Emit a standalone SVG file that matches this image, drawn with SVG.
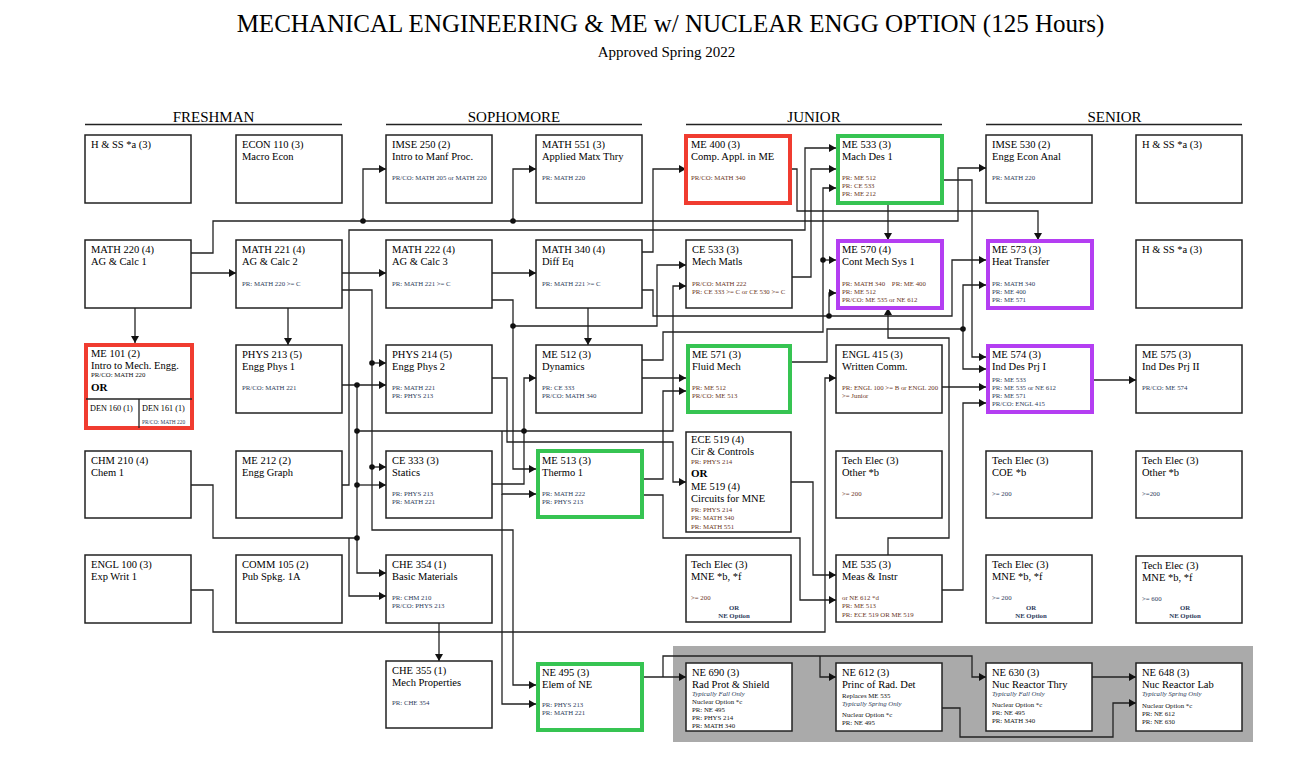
<svg xmlns="http://www.w3.org/2000/svg" width="1312" height="768" viewBox="0 0 1312 768">
<style>
text{font-family:"Liberation Serif","Times New Roman",serif}
.bx{fill:#fff;stroke:#222;stroke-width:1.5}
.red{fill:#fff;stroke:#f03c30;stroke-width:4}
.grn{fill:#fff;stroke:#36c452;stroke-width:4}
.pur{fill:#fff;stroke:#b43ef2;stroke-width:4}
.t{font-size:10.5px;fill:#000}
.s{font-size:6.8px;fill:#2d3b5a}
.sb{font-size:6.8px;fill:#6a3525}
.sk{font-size:6.8px;fill:#111}
.it{font-size:6.8px;fill:#2d3b5a;font-style:italic}
.or{font-size:11px;font-weight:bold;fill:#000}
.orc{font-size:6.8px;font-weight:bold;fill:#2d3b5a;text-anchor:middle}
.den{font-size:8.2px;fill:#000}
.tiny{font-size:5.4px;fill:#2d3b5a}
.hd{font-size:15px;fill:#000;text-anchor:middle}
.ul{stroke:#222;stroke-width:1.6}
.c{fill:none;stroke:#222;stroke-width:1.3;marker-end:url(#ah)}
.n{fill:none;stroke:#222;stroke-width:1.3}
.d{fill:#111}
</style>
<defs>
<marker id="ah" markerUnits="userSpaceOnUse" markerWidth="8" markerHeight="8" refX="7" refY="4" orient="auto">
<path d="M0,0 L7,4 L0,8 z" fill="#111"/>
</marker>
</defs>
<rect width="1312" height="768" fill="#fff"/>
<text x="670.5" y="32" font-size="25" text-anchor="middle">MECHANICAL ENGINEERING &amp; ME w/ NUCLEAR ENGG OPTION (125 Hours)</text>
<text x="666.5" y="57" font-size="15" text-anchor="middle">Approved Spring 2022</text>
<g id="headers">
<text class="hd" x="213.5" y="122">FRESHMAN</text>
<text class="hd" x="514" y="122">SOPHOMORE</text>
<text class="hd" x="814" y="122">JUNIOR</text>
<text class="hd" x="1114.5" y="122">SENIOR</text>
<line class="ul" x1="85" y1="124.5" x2="342" y2="124.5"/>
<line class="ul" x1="386" y1="124.5" x2="642" y2="124.5"/>
<line class="ul" x1="686" y1="124.5" x2="942" y2="124.5"/>
<line class="ul" x1="986" y1="124.5" x2="1242" y2="124.5"/>
</g>
<rect x="673" y="646" width="580" height="96" fill="#aaaaaa"/>

<g id="connectors">
<path class="c" d="M191,273 H236"/>
<path class="c" d="M135,308 V343"/>
<path class="c" d="M288,308 V345"/>
<path class="c" d="M191,253 H213 V221 H958 V168 H986"/>
<path class="c" d="M363,221 V169 H386"/>
<path class="c" d="M513,221 V169 H536"/>
<path class="c" d="M341,485 H349 V230 H805 V148 H836"/>
<path class="c" d="M341,273 H386"/>
<path class="c" d="M492,273 H536"/>
<path class="c" d="M341,290 H372 V530 H513 V685 H536"/>
<path class="c" d="M372,363 H386"/>
<path class="c" d="M372,467 H386"/>
<path class="c" d="M341,385 H386"/>
<path class="c" d="M357,385 V573 H386"/>
<path class="c" d="M357,485 H386"/>
<path class="c" d="M357,431 H673 V286 H686"/>
<path class="c" d="M502,431 V494 H536"/>
<path class="c" d="M502,494 V704 H536"/>
<path class="c" d="M492,484 H524 V378 H536"/>
<path class="c" d="M492,378 H507 V442 H673 V482 H686"/>
<path class="c" d="M642,252 H653 V169 H686"/>
<path class="c" d="M642,290 H653 V316 H952 V260 H986"/>
<path class="c" d="M829,316 V293 H836"/>
<path class="c" d="M588,308 V345"/>
<path class="c" d="M492,300 H513 V469 H536"/>
<path class="c" d="M513,326 H657 V265 H686"/>
<path class="c" d="M792,169 H797 V211 H1038 V240"/>
<path class="c" d="M792,277 H811 V169 H836"/>
<path class="c" d="M642,360 H663 V332 H823 V188 H836"/>
<path class="c" d="M823,260 H836"/>
<path class="c" d="M888,203 V240"/>
<path class="c" d="M942,180 H972 V357 H986"/>
<path class="c" d="M792,362 H827 V329 H963 V285 H986"/>
<path class="c" d="M963,329 V369 H986"/>
<path class="c" d="M942,387 H986"/>
<path class="c" d="M942,590 H963 V403 H986"/>
<path class="c" d="M888,555 V538 H949 V338 H888 V308"/>
<path class="c" d="M191,590 H213 V632 H825 V378 H836"/>
<path class="n" d="M191,485 H213 V538 H357"/>
<path class="c" d="M349,538 V596 H386"/>
<path class="c" d="M439,623 V661"/>
<path class="c" d="M642,479 H663 V391 H686"/>
<path class="c" d="M642,378 H686"/>
<path class="c" d="M642,495 H663 V538 H800 V600 H836"/>
<path class="c" d="M791,482 H813 V575 H836"/>
<path class="c" d="M642,677 H686"/>
<path class="c" d="M663,677 V656 H972 V677 H986"/>
<path class="c" d="M820,656 V677 H836"/>
<path class="c" d="M942,708 H960 V737 H1113 V703 H1136"/>
<path class="c" d="M1092,677 H1136"/>
<path class="c" d="M1092,380 H1136"/>
<circle class="d" cx="363" cy="221" r="2.8"/>
<circle class="d" cx="513" cy="221" r="2.8"/>
<circle class="d" cx="372" cy="363" r="2.8"/>
<circle class="d" cx="372" cy="467" r="2.8"/>
<circle class="d" cx="357" cy="385" r="2.8"/>
<circle class="d" cx="357" cy="431" r="2.8"/>
<circle class="d" cx="357" cy="485" r="2.8"/>
<circle class="d" cx="357" cy="538" r="2.8"/>
<circle class="d" cx="524" cy="431" r="2.8"/>
<circle class="d" cx="513" cy="326" r="2.8"/>
<circle class="d" cx="829" cy="316" r="2.8"/>
<circle class="d" cx="823" cy="260" r="2.8"/>
<circle class="d" cx="963" cy="329" r="2.8"/>
</g>

<g id="hss1"><rect class="bx" x="85" y="135" width="106" height="68"/><text class="t" x="91" y="148">H &amp; SS *a (3)</text></g>
<g id="econ110"><rect class="bx" x="236" y="135" width="106" height="68"/><text class="t" x="242" y="148">ECON 110 (3)</text><text class="t" x="242" y="160">Macro Econ</text></g>
<g id="imse250"><rect class="bx" x="386" y="135" width="106" height="68"/><text class="t" x="392" y="148">IMSE 250 (2)</text><text class="t" x="392" y="160">Intro to Manf Proc.</text><text class="s" x="392" y="180">PR/CO: MATH 205 or MATH 220</text></g>
<g id="math551"><rect class="bx" x="536" y="135" width="106" height="68"/><text class="t" x="542" y="148">MATH 551 (3)</text><text class="t" x="542" y="160">Applied Matx Thry</text><text class="s" x="542" y="180">PR: MATH 220</text></g>
<g id="me400"><rect class="red" x="686" y="136" width="104" height="67"/><text class="t" x="691" y="148">ME 400 (3)</text><text class="t" x="691" y="160">Comp. Appl. in ME</text><text class="sb" x="691" y="180">PR/CO: MATH 340</text></g>
<g id="me533"><rect class="grn" x="838" y="136" width="104" height="67"/><text class="t" x="842" y="148">ME 533 (3)</text><text class="t" x="842" y="160">Mach Des 1</text><text class="sb" x="842" y="180">PR: ME 512</text><text class="sb" x="842" y="188">PR: CE 533</text><text class="sb" x="842" y="196">PR: ME 212</text></g>
<g id="imse530"><rect class="bx" x="986" y="135" width="106" height="68"/><text class="t" x="992" y="148">IMSE 530 (2)</text><text class="t" x="992" y="160">Engg Econ Anal</text><text class="s" x="992" y="180">PR: MATH 220</text></g>
<g id="hss2"><rect class="bx" x="1136" y="135" width="106" height="68"/><text class="t" x="1142" y="148">H &amp; SS *a (3)</text></g>

<g id="math220"><rect class="bx" x="85" y="240" width="106" height="68"/><text class="t" x="91" y="253">MATH 220 (4)</text><text class="t" x="91" y="265">AG &amp; Calc 1</text></g>
<g id="math221"><rect class="bx" x="236" y="240" width="106" height="68"/><text class="t" x="242" y="253">MATH 221 (4)</text><text class="t" x="242" y="265">AG &amp; Calc 2</text><text class="s" x="242" y="286">PR: MATH 220  &gt;= C</text></g>
<g id="math222"><rect class="bx" x="386" y="240" width="106" height="68"/><text class="t" x="392" y="253">MATH 222 (4)</text><text class="t" x="392" y="265">AG &amp; Calc 3</text><text class="s" x="392" y="286">PR: MATH 221  &gt;= C</text></g>
<g id="math340"><rect class="bx" x="536" y="240" width="106" height="68"/><text class="t" x="542" y="253">MATH 340 (4)</text><text class="t" x="542" y="265">Diff Eq</text><text class="s" x="542" y="286">PR: MATH 221  &gt;= C</text></g>
<g id="ce533"><rect class="bx" x="686" y="240" width="106" height="68"/><text class="t" x="692" y="253">CE 533 (3)</text><text class="t" x="692" y="265">Mech Matls</text><text class="sb" x="692" y="286">PR/CO: MATH 222</text><text class="sb" x="692" y="294">PR: CE 333 &gt;= C or CE 530 &gt;= C</text></g>
<g id="me570"><rect class="pur" x="838" y="241" width="104" height="67"/><text class="t" x="842" y="253">ME 570 (4)</text><text class="t" x="842" y="265">Cont Mech Sys 1</text><text class="sb" x="842" y="286" xml:space="preserve">PR: MATH 340    PR: ME 400</text><text class="sb" x="842" y="294">PR: ME 512</text><text class="sb" x="842" y="302">PR/CO: ME 535 or NE 612</text></g>
<g id="me573"><rect class="pur" x="988" y="241" width="104" height="67"/><text class="t" x="992" y="253">ME 573 (3)</text><text class="t" x="992" y="265">Heat Transfer</text><text class="s" x="992" y="286">PR: MATH 340</text><text class="s" x="992" y="294">PR: ME 400</text><text class="s" x="992" y="302">PR: ME 571</text></g>
<g id="hss3"><rect class="bx" x="1136" y="240" width="106" height="68"/><text class="t" x="1142" y="253">H &amp; SS *a (3)</text></g>

<g id="me101"><rect class="red" x="86" y="345" width="106" height="83"/><line class="n" x1="86" y1="399" x2="192" y2="399"/><line class="n" x1="139" y1="399" x2="139" y2="428"/><text class="t" x="91" y="357">ME 101 (2)</text><text class="t" x="91" y="369">Intro to Mech. Engg.</text><text class="sk" x="91" y="377">PR/CO: MATH 220</text><text class="or" x="91" y="391">OR</text><text class="den" x="90" y="411">DEN 160 (1)</text><text class="den" x="142" y="411">DEN 161 (1)</text><text class="tiny" x="142" y="424">PR/CO: MATH 220</text></g>
<g id="phys213"><rect class="bx" x="236" y="345" width="106" height="68"/><text class="t" x="242" y="358">PHYS 213 (5)</text><text class="t" x="242" y="370">Engg Phys 1</text><text class="s" x="242" y="390">PR/CO: MATH 221</text></g>
<g id="phys214"><rect class="bx" x="386" y="345" width="106" height="68"/><text class="t" x="392" y="358">PHYS 214 (5)</text><text class="t" x="392" y="370">Engg Phys 2</text><text class="s" x="392" y="390">PR: MATH 221</text><text class="s" x="392" y="398">PR: PHYS 213</text></g>
<g id="me512"><rect class="bx" x="536" y="345" width="106" height="68"/><text class="t" x="542" y="358">ME 512 (3)</text><text class="t" x="542" y="370">Dynamics</text><text class="s" x="542" y="390">PR: CE 333</text><text class="s" x="542" y="398">PR/CO: MATH 340</text></g>
<g id="me571"><rect class="grn" x="688" y="346" width="102" height="66"/><text class="t" x="692" y="358">ME 571 (3)</text><text class="t" x="692" y="370">Fluid Mech</text><text class="sb" x="692" y="390">PR: ME 512</text><text class="sb" x="692" y="398">PR/CO: ME 513</text></g>
<g id="engl415"><rect class="bx" x="836" y="345" width="106" height="68"/><text class="t" x="842" y="358">ENGL 415 (3)</text><text class="t" x="842" y="370">Written Comm.</text><text class="sb" x="842" y="390">PR: ENGL 100 &gt;= B or ENGL 200</text><text class="sb" x="842" y="398">&gt;= Junior</text></g>
<g id="me574"><rect class="pur" x="988" y="346" width="104" height="66"/><text class="t" x="992" y="358">ME 574 (3)</text><text class="t" x="992" y="370">Ind Des Prj I</text><text class="s" x="992" y="382">PR: ME 533</text><text class="s" x="992" y="390">PR: ME 535 or NE 612</text><text class="s" x="992" y="398">PR: ME 571</text><text class="s" x="992" y="406">PR/CO: ENGL 415</text></g>
<g id="me575"><rect class="bx" x="1136" y="345" width="106" height="68"/><text class="t" x="1142" y="358">ME 575 (3)</text><text class="t" x="1142" y="370">Ind Des Prj II</text><text class="s" x="1142" y="390">PR/CO: ME 574</text></g>

<g id="chm210"><rect class="bx" x="85" y="451" width="106" height="67"/><text class="t" x="91" y="464">CHM 210 (4)</text><text class="t" x="91" y="476">Chem 1</text></g>
<g id="me212"><rect class="bx" x="236" y="451" width="106" height="67"/><text class="t" x="242" y="464">ME 212 (2)</text><text class="t" x="242" y="476">Engg Graph</text></g>
<g id="ce333"><rect class="bx" x="386" y="451" width="106" height="67"/><text class="t" x="392" y="464">CE 333 (3)</text><text class="t" x="392" y="476">Statics</text><text class="s" x="392" y="496">PR: PHYS 213</text><text class="s" x="392" y="504">PR: MATH 221</text></g>
<g id="me513"><rect class="grn" x="538" y="451" width="104" height="66"/><text class="t" x="542" y="464">ME 513 (3)</text><text class="t" x="542" y="476">Thermo 1</text><text class="s" x="542" y="496">PR: MATH 222</text><text class="s" x="542" y="504">PR: PHYS 213</text></g>
<g id="ece519"><rect class="bx" x="686" y="432" width="105" height="100"/><text class="t" x="691" y="443">ECE 519 (4)</text><text class="t" x="691" y="455">Cir &amp; Controls</text><text class="sb" x="691" y="464">PR: PHYS 214</text><text class="or" x="691" y="477">OR</text><text class="t" x="691" y="490">ME 519 (4)</text><text class="t" x="691" y="502">Circuits for MNE</text><text class="sb" x="691" y="512">PR: PHYS 214</text><text class="sb" x="691" y="520">PR: MATH 340</text><text class="sb" x="691" y="529">PR: MATH 551</text></g>
<g id="te_other1"><rect class="bx" x="836" y="451" width="106" height="67"/><text class="t" x="842" y="464">Tech Elec (3)</text><text class="t" x="842" y="476">Other *b</text><text class="sb" x="842" y="496">&gt;= 200</text></g>
<g id="te_coe"><rect class="bx" x="986" y="451" width="106" height="67"/><text class="t" x="992" y="464">Tech Elec (3)</text><text class="t" x="992" y="476">COE *b</text><text class="s" x="992" y="496">&gt;= 200</text></g>
<g id="te_other2"><rect class="bx" x="1136" y="451" width="106" height="67"/><text class="t" x="1142" y="464">Tech Elec (3)</text><text class="t" x="1142" y="476">Other *b</text><text class="s" x="1142" y="496">&gt;=200</text></g>

<g id="engl100"><rect class="bx" x="85" y="555" width="106" height="68"/><text class="t" x="91" y="568">ENGL 100 (3)</text><text class="t" x="91" y="580">Exp Writ 1</text></g>
<g id="comm105"><rect class="bx" x="236" y="555" width="106" height="68"/><text class="t" x="242" y="568">COMM 105 (2)</text><text class="t" x="242" y="580">Pub Spkg. 1A</text></g>
<g id="che354"><rect class="bx" x="386" y="555" width="106" height="68"/><text class="t" x="392" y="568">CHE 354 (1)</text><text class="t" x="392" y="580">Basic Materials</text><text class="s" x="392" y="600">PR: CHM 210</text><text class="s" x="392" y="608">PR/CO: PHYS 213</text></g>
<g id="te_mne1"><rect class="bx" x="686" y="555" width="105" height="67"/><text class="t" x="691" y="568">Tech Elec (3)</text><text class="t" x="691" y="580">MNE *b, *f</text><text class="sb" x="691" y="600">&gt;= 200</text><text class="orc" x="734" y="610">OR</text><text class="orc" x="734" y="618">NE Option</text></g>
<g id="me535"><rect class="bx" x="836" y="555" width="106" height="67"/><text class="t" x="842" y="568">ME 535 (3)</text><text class="t" x="842" y="580">Meas &amp; Instr</text><text class="sb" x="842" y="600">or NE 612 *d</text><text class="sb" x="842" y="608">PR: ME 513</text><text class="sb" x="842" y="617">PR: ECE 519 OR ME 519</text></g>
<g id="te_mne2"><rect class="bx" x="986" y="555" width="106" height="68"/><text class="t" x="992" y="568">Tech Elec (3)</text><text class="t" x="992" y="580">MNE *b, *f</text><text class="s" x="992" y="600">&gt;= 200</text><text class="orc" x="1031" y="610">OR</text><text class="orc" x="1031" y="618">NE Option</text></g>
<g id="te_mne3"><rect class="bx" x="1136" y="556" width="106" height="67"/><text class="t" x="1142" y="569">Tech Elec (3)</text><text class="t" x="1142" y="581">MNE *b, *f</text><text class="s" x="1142" y="601">&gt;= 600</text><text class="orc" x="1185" y="610">OR</text><text class="orc" x="1185" y="618">NE Option</text></g>

<g id="che355"><rect class="bx" x="386" y="661" width="106" height="67"/><text class="t" x="392" y="674">CHE 355 (1)</text><text class="t" x="392" y="686">Mech Properties</text><text class="s" x="392" y="705">PR: CHE 354</text></g>
<g id="ne495"><rect class="grn" x="538" y="664" width="104" height="66"/><text class="t" x="542" y="676">NE 495 (3)</text><text class="t" x="542" y="688">Elem of NE</text><text class="s" x="542" y="707">PR: PHYS 213</text><text class="s" x="542" y="715">PR: MATH 221</text></g>
<g id="ne690"><rect class="bx" x="686" y="663" width="106" height="68"/><text class="t" x="692" y="676">NE 690 (3)</text><text class="t" x="692" y="688">Rad Prot &amp; Shield</text><text class="it" x="692" y="696">Typically Fall Only</text><text class="sk" x="692" y="704">Nuclear Option *c</text><text class="sk" x="692" y="712">PR: NE 495</text><text class="sk" x="692" y="720">PR: PHYS 214</text><text class="sk" x="692" y="728">PR: MATH 340</text></g>
<g id="ne612"><rect class="bx" x="836" y="663" width="106" height="68"/><text class="t" x="842" y="676">NE 612 (3)</text><text class="t" x="842" y="688">Princ of Rad. Det</text><text class="sk" x="842" y="698">Replaces ME 535</text><text class="it" x="842" y="706">Typically Spring Only</text><text class="sk" x="842" y="717">Nuclear Option *c</text><text class="sk" x="842" y="725">PR: NE 495</text></g>
<g id="ne630"><rect class="bx" x="986" y="663" width="106" height="68"/><text class="t" x="992" y="676">NE 630 (3)</text><text class="t" x="992" y="688">Nuc Reactor Thry</text><text class="it" x="992" y="696">Typically Fall Only</text><text class="sk" x="992" y="707">Nuclear Option *c</text><text class="sk" x="992" y="715">PR: NE 495</text><text class="sk" x="992" y="723">PR: MATH 340</text></g>
<g id="ne648"><rect class="bx" x="1136" y="663" width="106" height="68"/><text class="t" x="1142" y="676">NE 648 (3)</text><text class="t" x="1142" y="688">Nuc Reactor Lab</text><text class="it" x="1142" y="696">Typically Spring Only</text><text class="sk" x="1142" y="708">Nuclear Option *c</text><text class="sk" x="1142" y="716">PR: NE 612</text><text class="sk" x="1142" y="724">PR: NE 630</text></g>
</svg>
